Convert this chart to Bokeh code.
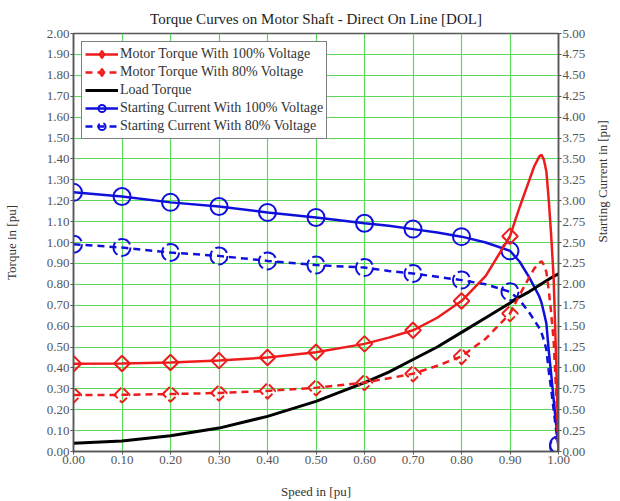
import math
from bokeh.plotting import figure
from bokeh.models import (Range1d, LinearAxis, FixedTicker, PrintfTickFormatter,
                          Legend, LegendItem, ColumnDataSource)
from bokeh.embed import file_html
from bokeh.resources import INLINE

# ---------------- data ----------------
speed = [0.00, 0.10, 0.20, 0.30, 0.40, 0.50, 0.60, 0.65, 0.70, 0.75, 0.80, 0.85,
         0.90, 0.92, 0.94, 0.95, 0.96, 0.965, 0.97, 0.975, 0.98, 0.985, 0.99, 0.995, 1.00]

torque_100 = [0.420, 0.421, 0.426, 0.435, 0.450, 0.475, 0.515, 0.545, 0.580, 0.640, 0.720, 0.840,
              1.030, 1.170, 1.300, 1.365, 1.410, 1.420, 1.395, 1.340, 1.200, 1.030, 0.830, 0.450, 0.000]

torque_80 = [0.270, 0.271, 0.275, 0.280, 0.290, 0.305, 0.330, 0.350, 0.372, 0.410, 0.455, 0.540,
             0.660, 0.750, 0.835, 0.875, 0.903, 0.910, 0.893, 0.858, 0.770, 0.660, 0.530, 0.290, 0.000]

load_torque = [0.040, 0.050, 0.075, 0.112, 0.168, 0.240, 0.330, 0.380, 0.440, 0.500, 0.570, 0.640,
               0.710, 0.740, 0.765, 0.780, 0.795, 0.802, 0.810, 0.817, 0.824, 0.831, 0.838, 0.844, 0.850]

current_100 = [3.10, 3.05, 2.98, 2.93, 2.86, 2.80, 2.73, 2.70, 2.66, 2.62, 2.57, 2.50,
               2.40, 2.27, 2.08, 1.97, 1.86, 1.78, 1.66, 1.53, 1.20, 0.92, 0.62, 0.33, 0.08]

current_80 = [2.48, 2.44, 2.38, 2.34, 2.28, 2.23, 2.20, 2.16, 2.13, 2.09, 2.05, 2.00,
              1.91, 1.81, 1.66, 1.57, 1.48, 1.42, 1.33, 1.22, 0.96, 0.74, 0.50, 0.26, 0.06]

x_ticks = [0.0, 0.1, 0.2, 0.3, 0.4, 0.5, 0.6, 0.7, 0.8, 0.9, 1.0]
torque_ticks = [0.0, 0.1, 0.2, 0.3, 0.4, 0.5, 0.6, 0.7, 0.8, 0.9, 1.0,
                1.1, 1.2, 1.3, 1.4, 1.5, 1.6, 1.7, 1.8, 1.9, 2.0]
current_ticks = [0.0, 0.25, 0.5, 0.75, 1.0, 1.25, 1.5, 1.75, 2.0, 2.25, 2.5,
                 2.75, 3.0, 3.25, 3.5, 3.75, 4.0, 4.25, 4.5, 4.75, 5.0]

title_text = "Torque Curves on Motor Shaft - Direct On Line [DOL]"
labels = ["Motor Torque With 100% Voltage", "Motor Torque With 80% Voltage",
          "Load Torque", "Starting Current With 100% Voltage",
          "Starting Current With 80% Voltage"]

# ---------------- figure ----------------
FONT = "Liberation Serif"
RED = "#ee1c1c"
BLUE = "#1010dd"

src = ColumnDataSource(dict(s=speed, t100=torque_100, t80=torque_80, tl=load_torque,
                            c100=current_100, c80=current_80))
mark_idx = [i for i, s in enumerate(speed) if abs(s * 10 - round(s * 10)) < 1e-9]
tq_idx = [i for i in mark_idx if speed[i] < 0.95]
msrc_t = ColumnDataSource(dict(s=[speed[i] for i in tq_idx],
                               t100=[torque_100[i] for i in tq_idx],
                               t80=[torque_80[i] for i in tq_idx]))
msrc_c = ColumnDataSource(dict(s=[speed[i] for i in mark_idx],
                               c100=[current_100[i] for i in mark_idx],
                               c80=[current_80[i] for i in mark_idx]))

p = figure(width=620, height=501, x_range=Range1d(0, 1), y_range=Range1d(0, 2),
           output_backend="svg", toolbar_location=None,
           min_border_left=73, min_border_right=61, min_border_top=33, min_border_bottom=50,
           background_fill_color="white", border_fill_color="white")
p.extra_y_ranges = {"cur": Range1d(0, 5)}

p.title.text = title_text
p.title.align = "center"
p.title.text_font = FONT
p.title.text_font_size = "15px"
p.title.text_font_style = "normal"
p.title.text_color = "#222222"
p.title.standoff = 14

p.outline_line_color = "#555555"
p.outline_line_width = 1.5

for g, tk in ((p.xgrid, x_ticks), (p.ygrid, torque_ticks)):
    g.ticker = FixedTicker(ticks=tk)
    g.grid_line_color = "#5cd95c"
    g.grid_line_width = 1.2

def style_axis(ax, ticks, standoff):
    ax.ticker = FixedTicker(ticks=ticks)
    ax.formatter = PrintfTickFormatter(format="%.2f")
    ax.major_label_text_font = FONT
    ax.major_label_text_font_size = "13px"
    ax.major_label_text_color = "#555555"
    ax.major_tick_out = 3
    ax.major_tick_in = 0
    ax.minor_tick_line_color = None
    ax.major_tick_line_color = "#555555"
    ax.axis_line_color = "#555555"
    ax.axis_line_width = 1.5
    ax.major_label_standoff = 1
    ax.axis_label_text_font = FONT
    ax.axis_label_text_font_size = "13px"
    ax.axis_label_text_font_style = "normal"
    ax.axis_label_text_color = "#333333"
    ax.axis_label_standoff = standoff

style_axis(p.xaxis[0], x_ticks, 17)
p.xaxis[0].axis_label = "Speed in [pu]"
style_axis(p.yaxis[0], torque_ticks, 25)
p.yaxis[0].axis_label = "Torque in [pu]"

rax = LinearAxis(y_range_name="cur")
style_axis(rax, current_ticks, 14)
rax.axis_label = "Starting Current in [pu]"
rax.axis_label_orientation = math.pi / 2
p.add_layout(rax, "right")

# currents (right axis)
l_c100 = p.line("s", "c100", source=src, y_range_name="cur", line_color=BLUE, line_width=2.5)
m_c100 = p.scatter("s", "c100", source=msrc_c, y_range_name="cur", marker="circle", size=17,
                   fill_color=None, line_color=BLUE, line_width=2)
l_c80 = p.line("s", "c80", source=src, y_range_name="cur", line_color=BLUE, line_width=2.5,
               line_dash="7 5")
m_c80 = p.scatter("s", "c80", source=msrc_c, y_range_name="cur", marker="circle", size=17,
                  fill_color=None, line_color=BLUE, line_width=2, line_dash="14 4")
# load torque
l_tl = p.line("s", "tl", source=src, line_color="black", line_width=3)
# motor torques
l_t100 = p.line("s", "t100", source=src, line_color=RED, line_width=2.5)
m_t100 = p.scatter("s", "t100", source=msrc_t, marker="square", angle=0.785398, size=11,
                   fill_color=None, line_color=RED, line_width=2)
l_t80 = p.line("s", "t80", source=src, line_color=RED, line_width=2.5, line_dash="7 5")
m_t80 = p.scatter("s", "t80", source=msrc_t, marker="square", angle=0.785398, size=11,
                  fill_color=None, line_color=RED, line_width=2, line_dash="10 3")
# legend-only diamond glyphs (hidden in the plot area)
k_t100 = p.scatter("s", "t100", source=msrc_t, marker="diamond", size=16,
                   fill_color=None, line_color=RED, line_width=2, visible=False)
k_t80 = p.scatter("s", "t80", source=msrc_t, marker="diamond", size=16,
                  fill_color=None, line_color=RED, line_width=2, visible=False)

legend = Legend(items=[
    LegendItem(label=labels[0], renderers=[l_t100, k_t100]),
    LegendItem(label=labels[1], renderers=[l_t80, k_t80]),
    LegendItem(label=labels[2], renderers=[l_tl]),
    LegendItem(label=labels[3], renderers=[l_c100, m_c100]),
    LegendItem(label=labels[4], renderers=[l_c80, m_c80]),
], location="top_left")
legend.margin = 8
legend.padding = 3
legend.spacing = 0
legend.glyph_width = 33
legend.glyph_height = 18
legend.label_height = 18
legend.label_standoff = 2
legend.label_text_font = FONT
legend.label_text_font_size = "14px"
legend.label_text_color = "#333333"
legend.border_line_color = "black"
legend.border_line_width = 1.5
legend.background_fill_color = "white"
legend.background_fill_alpha = 1.0
legend.inactive_fill_alpha = 0.0
p.add_layout(legend, "center")

open("out.html", "w").write(file_html(p, INLINE))
